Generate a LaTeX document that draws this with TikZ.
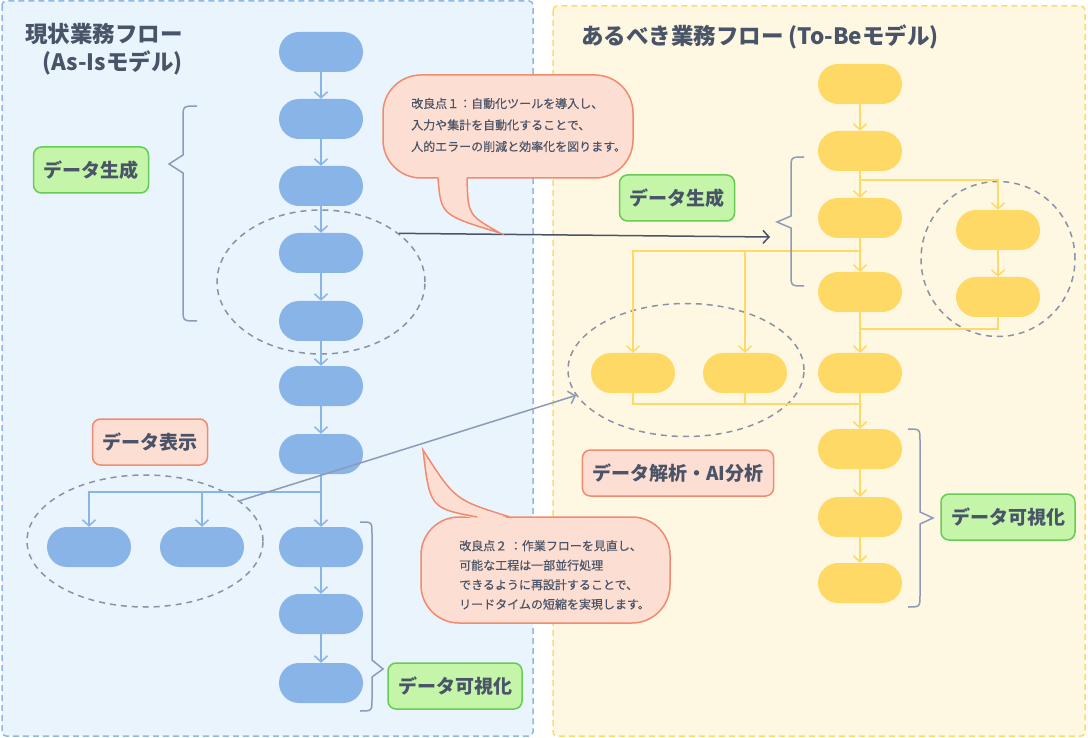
\documentclass[tikz,border=0pt]{standalone}
\usepackage{fontspec}
\setmainfont{Noto Sans CJK JP}
\newfontfamily\notefont{Noto Sans CJK JP}[FakeBold=0.4]
\usetikzlibrary{arrows.meta,shapes.geometric}
\definecolor{ink}{HTML}{4A5468}
\definecolor{asfill}{HTML}{EAF4FD}
\definecolor{asline}{HTML}{8DB8E8}
\definecolor{asbox}{HTML}{88B4E7}
\definecolor{tofill}{HTML}{FEF8E2}
\definecolor{toline}{HTML}{FDDB6B}
\definecolor{tobox}{HTML}{FFD966}
\definecolor{grp}{HTML}{8A93A6}
\definecolor{brc}{HTML}{8C9BB8}
\definecolor{gfill}{HTML}{C4F5A9}
\definecolor{gline}{HTML}{66CC55}
\definecolor{sfill}{HTML}{FDDED2}
\definecolor{sline}{HTML}{F28A70}
\tikzset{
	task/.style={rounded corners=20pt, minimum width=84pt, minimum height=40pt, inner sep=0pt},
	astask/.style={task, fill=asbox},
	totask/.style={task, fill=tobox},
	tip/.style={-{Straight Barb[length=6pt,width=13pt]}},
	asflow/.style={draw=asbox, line width=1.5pt},
	toflow/.style={draw=tobox, line width=1.5pt},
	group/.style={ellipse, draw=grp, line width=1.5pt, dash pattern=on 6pt off 5pt, inner sep=0pt},
	curly/.style={draw=brc, line width=1.5pt},
	tag/.style={rounded corners=8pt, line width=1.5pt, minimum height=46pt, inner xsep=10pt, text=ink, font=\fontsize{19}{19}\selectfont\bfseries},
	gtag/.style={tag, fill=gfill, draw=gline},
	stag/.style={tag, fill=sfill, draw=sline},
	callout/.style={fill=sfill, draw=sline, line width=1.5pt, rounded corners=38pt},
	note/.style={text=ink, align=left, inner sep=0pt},
	title/.style={text=ink, font=\fontsize{22.5}{28}\selectfont\bfseries}
}
\begin{document}
\begin{tikzpicture}[x=1pt, y=-1pt]
	\useasboundingbox (0,0) rectangle (1088,738);
	% panels
	\draw[draw=asline, fill=asfill, line width=1.5pt, dash pattern=on 6pt off 4pt, rounded corners=4pt] (2,1) rectangle (533,736);
	\draw[draw=toline, fill=tofill, line width=1.5pt, dash pattern=on 6pt off 4pt, rounded corners=4pt] (553,6) rectangle (1085,736);
	\node[title, align=right] (asTitle) at (104,49) {現状業務フロー\\(As-Isモデル)};
	\node[title] (toTitle) at (760,37) {あるべき業務フロー (To-Beモデル)};
	% groups
	\node[group, minimum width=208pt, minimum height=144pt] (g45) at (321,282) {};
	\node[group, minimum width=236pt, minimum height=132pt] (gL) at (145,541) {};
	\node[group, minimum width=154pt, minimum height=155pt] (gR) at (998,259) {};
	\node[group, minimum width=236pt, minimum height=133pt] (gB) at (686,370) {};
	% as-is flow
	\foreach \y [count=\i] in {52,119,186,253,321,386,454,547,614,683}
		\node[astask] (as\i) at (321,\y) {};
	\node[astask] (asL1) at (89,547) {};
	\node[astask] (asL2) at (202,547) {};
	\foreach \i/\j in {1/2,2/3,3/4,4/5,5/6,6/7,7/8,8/9,9/10}
		\draw[asflow, tip] (as\i) -- (as\j);
	\coordinate (asSplit) at (321,492);
	\draw[asflow, tip] (asSplit) -| (asL1.north);
	\draw[asflow, tip] (asSplit) -| (asL2.north);
	% to-be flow
	\foreach \y [count=\i] in {84,151,218,292,373,449,517,583}
		\node[totask] (tb\i) at (860,\y) {};
	\node[totask] (tbR1) at (998,230) {};
	\node[totask] (tbR2) at (998,297) {};
	\node[totask] (tbL1) at (633,373) {};
	\node[totask] (tbL2) at (745,373) {};
	\foreach \i/\j in {1/2,2/3,3/4,4/5,5/6,6/7,7/8}
		\draw[toflow, tip] (tb\i) -- (tb\j);
	\draw[toflow, tip] (tbR1) -- (tbR2);
	\coordinate (tbSplitA) at (860,180);
	\coordinate (tbSplitB) at (860,251);
	\coordinate (tbJoinA) at (860,329);
	\coordinate (tbJoinB) at (860,404);
	\draw[toflow, tip] (tbSplitA) -| (tbR1.north);
	\draw[toflow, tip] (tbSplitB) -| (tbL1.north);
	\draw[toflow, tip] (tbSplitB) -| (tbL2.north);
	\draw[toflow] (tbR2.south) |- (tbJoinA);
	\draw[toflow] (tbL1.south) |- (tbJoinB);
	\draw[toflow] (tbL2.south) |- (tbJoinB);
	% links between the two flows
	\coordinate (hit) at (770,237);
	\draw[draw=ink, line width=1.5pt, tip] (g45.32) -- (hit);
	\draw[draw=brc, line width=1.5pt, tip] (gL.23) -- (gB.193);
	% braces
	\draw[curly] (197,106) .. controls (183,106) .. (183,118) -- (183,155) -- (169,164) -- (183,173) -- (183,309) .. controls (183,321) .. (197,321);
	\draw[curly] (360,522) .. controls (372,522) .. (372,534) -- (372,660) -- (383,669) -- (372,677) -- (372,699) .. controls (372,711) .. (360,711);
	\draw[curly] (804,157) .. controls (791,157) .. (791,169) -- (791,216) -- (777,222) -- (791,228) -- (791,274) .. controls (791,286) .. (804,286);
	\draw[curly] (908,429) .. controls (920,429) .. (920,441) -- (920,512) -- (933,518) -- (920,524) -- (920,595) .. controls (920,607) .. (908,607);
	% tags
	\node[gtag] (asGen) at (91,170) {データ生成};
	\node[stag] (asShow) at (150,442) {データ表示};
	\node[gtag] (asVis) at (455,686) {データ可視化};
	\node[gtag] (toGen) at (677,198) {データ生成};
	\node[stag] (toAna) at (678,473) {データ解析・AI分析};
	\node[gtag] (toVis) at (1008,517) {データ可視化};
	% callout 1
	\draw[callout] (383,75) rectangle (633,178);
	\fill[sfill] (438,176) .. controls (441,215) .. (500,233) .. controls (468,215) .. (467,176) -- cycle;
	\draw[draw=sline, line width=1.5pt] (438,178) .. controls (441,215) .. (500,233) .. controls (468,215) .. (467,178);
	\node[note, anchor=west, font=\notefont\fontsize{12}{21.5}\selectfont] (tip1) at (411,125) {改良点１：自動化ツールを導入し、\\入力や集計を自動化することで、\\人的エラーの削減と効率化を図ります。};
	% callout 2
	\draw[callout] (421,517) rectangle (670,623);
	\fill[sfill] (477,519) .. controls (430,508) .. (423,450) .. controls (455,500) .. (510,519) -- cycle;
	\draw[draw=sline, line width=1.5pt] (477,517) .. controls (430,508) .. (423,450) .. controls (455,500) .. (510,517);
	\node[note, anchor=west, font=\notefont\fontsize{12}{19.5}\selectfont] (tip2) at (459,575) {改良点２ ：作業フローを見直し、\\可能な工程は一部並行処理\\できるように再設計することで、\\リードタイムの短縮を実現します。};
\end{tikzpicture}
\end{document}
